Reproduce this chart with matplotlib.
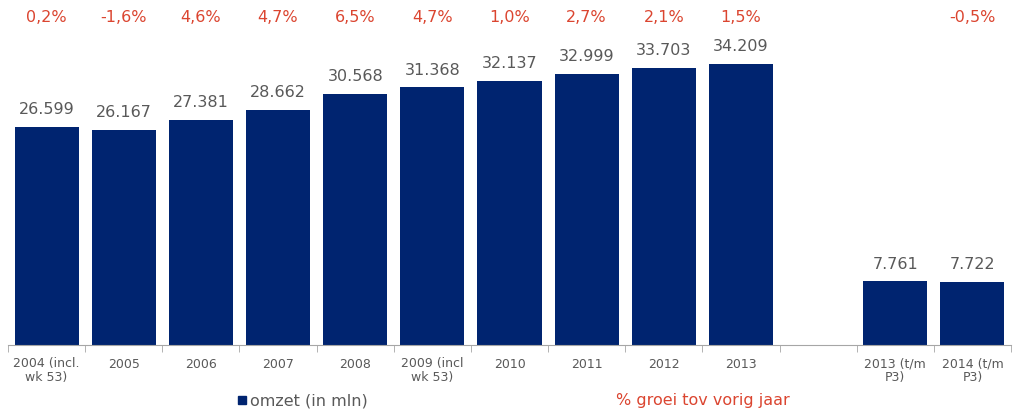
import numpy as np
import matplotlib
matplotlib.use("Agg")
import matplotlib.pyplot as plt
from matplotlib.patches import Rectangle

plt.rcParams['font.family'] = ['DejaVu Sans']

categories = ["2004 (incl.\nwk 53)", "2005", "2006", "2007", "2008", "2009 (incl\nwk 53)",
              "2010", "2011", "2012", "2013", "", "2013 (t/m\nP3)", "2014 (t/m\nP3)"]
omzet = [26599, 26167, 27381, 28662, 30568, 31368, 32137, 32999, 33703, 34209, np.nan, 7761, 7722]
groei = [0.2, -1.6, 4.6, 4.7, 6.5, 4.7, 1.0, 2.7, 2.1, 1.5, np.nan, np.nan, -0.5]

navy = "#002470"
red = "#DB4530"
gray_txt = "#595959"
gray_line = "#A6A6A6"

fig = plt.figure(figsize=(10.24, 4.18), dpi=100)
ax = fig.add_axes([8/1024, 73/418, (1011-8)/1024, 345/418])

x = np.arange(len(categories))
ax.bar(x, omzet, width=0.83, color=navy, zorder=2)
ax.set_xlim(-0.5, len(categories) - 0.5)
ax.set_ylim(0, 42000)

for xi, v in zip(x, omzet):
    if np.isnan(v):
        continue
    ax.annotate(f"{v:,.0f}".replace(",", "."), (xi, v), xytext=(0, 7), textcoords="offset points",
                ha="center", va="bottom", fontsize=11.5, color=gray_txt)

for xi, g in zip(x, groei):
    if np.isnan(g):
        continue
    ax.text(xi, 0.949, f"{g:.1f}%".replace(".", ","), transform=ax.get_xaxis_transform(),
            ha="center", va="center", fontsize=11.5, color=red)

for s in ["top", "left", "right"]:
    ax.spines[s].set_visible(False)
ax.spines["bottom"].set_color(gray_line)
ax.set_yticks([])
ax.set_xticks(x)
ax.set_xticklabels(categories, fontsize=9, color=gray_txt, linespacing=1.0)
ax.tick_params(axis="x", which="major", length=0, pad=9)
ax.set_xticks(np.arange(-0.5, len(categories)), minor=True)
ax.tick_params(axis="x", which="minor", length=5, color=gray_line, direction="out")

fig.patches.append(Rectangle((238/1024, (418-404)/418), 8/1024, 8/418,
                             transform=fig.transFigure, color=navy))
fig.text(250/1024, (418-401)/418, "omzet (in mln)", fontsize=11.5, color=gray_txt,
         ha="left", va="center")
fig.text(616/1024, (418-401)/418, "% groei tov vorig jaar", fontsize=11.5, color=red,
         ha="left", va="center")

fig.savefig("out.png", dpi=100)
